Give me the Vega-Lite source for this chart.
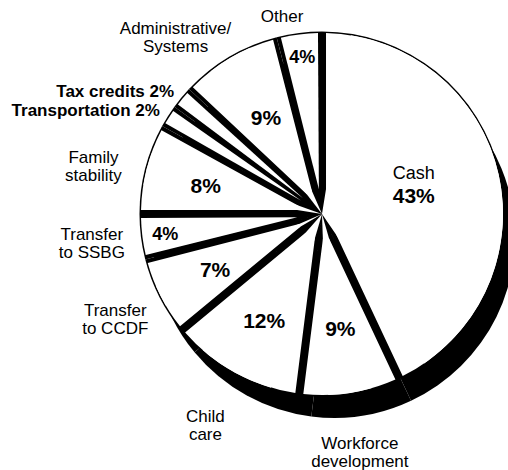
{
  "$schema": "https://vega.github.io/schema/vega-lite/v6.json",
  "autosize": "none",
  "width": 372,
  "height": 428,
  "padding": {"left": 136, "top": 0, "right": 0, "bottom": 42},
  "background": "white",
  "config": {"view": {"stroke": null}, "text": {"font": "Liberation Sans", "color": "black"}},
  "data": {
    "values": [
      {"i": 1, "name": "Cash", "value": 43, "label": "Cash", "pct": "43%"},
      {"i": 2, "name": "Workforce development", "value": 9, "label": "Workforce\ndevelopment", "pct": "9%"},
      {"i": 3, "name": "Child care", "value": 12, "label": "Child\ncare", "pct": "12%"},
      {"i": 4, "name": "Transfer to CCDF", "value": 7, "label": "Transfer\nto CCDF", "pct": "7%"},
      {"i": 5, "name": "Transfer to SSBG", "value": 4, "label": "Transfer\nto SSBG", "pct": "4%"},
      {"i": 6, "name": "Family stability", "value": 8, "label": "Family\nstability", "pct": "8%"},
      {"i": 7, "name": "Transportation", "value": 2, "label": "Transportation  2%", "pct": "2%"},
      {"i": 8, "name": "Tax credits", "value": 2, "label": "Tax credits 2%", "pct": "2%"},
      {"i": 9, "name": "Administrative/Systems", "value": 9, "label": "Administrative/\nSystems", "pct": "9%"},
      {"i": 10, "name": "Other", "value": 4, "label": "Other", "pct": "4%"}
    ]
  },
  "encoding": {
    "theta": {"field": "value", "type": "quantitative", "stack": true},
    "order": {"field": "i", "type": "quantitative", "sort": "ascending"}
  },
  "layer": [
    {"mark": {"type": "arc", "fill": "black", "outerRadius": 181, "xOffset": 12, "yOffset": 23}},
    {"mark": {"type": "arc", "fill": "black", "outerRadius": 182.5}},
    {"mark": {"type": "arc", "fill": "white", "outerRadius": 181, "padAngle": 0.32}},
    {"mark": {"type": "arc", "fill": "white", "innerRadius": 25, "outerRadius": 181, "padAngle": 0.044}},
    {
      "mark": {"type": "text", "radius": 94, "dy": -19, "fontSize": 18},
      "encoding": {"text": {"condition": {"test": "datum.name === 'Cash'", "field": "label"}, "value": ""}}
    },
    {
      "mark": {"type": "text", "radius": 94, "dy": 4, "fontSize": 21, "fontWeight": "bold"},
      "encoding": {"text": {"condition": {"test": "datum.name === 'Cash'", "field": "pct"}, "value": ""}}
    },
    {
      "mark": {"type": "text", "radius": 120, "dy": 3, "fontSize": 21, "fontWeight": "bold"},
      "encoding": {"text": {"condition": {"test": "indexof(['Child care','Transfer to CCDF','Family stability'], datum.name) >= 0", "field": "pct"}, "value": ""}}
    },
    {
      "mark": {"type": "text", "radius": 117, "dy": 0, "fontSize": 21, "fontWeight": "bold"},
      "encoding": {"text": {"condition": {"test": "datum.name === 'Workforce development'", "field": "pct"}, "value": ""}}
    },
    {
      "mark": {"type": "text", "radius": 110, "dy": 0, "fontSize": 21, "fontWeight": "bold"},
      "encoding": {"text": {"condition": {"test": "datum.name === 'Administrative/Systems'", "field": "pct"}, "value": ""}}
    },
    {
      "mark": {"type": "text", "radius": 158, "dy": 1, "fontSize": 18, "fontWeight": "bold"},
      "encoding": {"text": {"condition": {"test": "indexof(['Transfer to SSBG','Other'], datum.name) >= 0", "field": "pct"}, "value": ""}}
    },
    {
      "mark": {"type": "text", "radius": 232, "dy": -8, "fontSize": 17, "lineHeight": 18, "lineBreak": "\n"},
      "encoding": {"text": {"condition": {"test": "indexof(['Transfer to SSBG','Transfer to CCDF'], datum.name) >= 0", "field": "label"}, "value": ""}}
    },
    {
      "mark": {"type": "text", "radius": 242, "dy": -9, "fontSize": 17, "lineHeight": 18, "lineBreak": "\n"},
      "encoding": {"text": {"condition": {"test": "indexof(['Child care','Workforce development'], datum.name) >= 0", "field": "label"}, "value": ""}}
    },
    {
      "mark": {"type": "text", "radius": 236, "dy": 3, "fontSize": 17, "lineHeight": 18, "lineBreak": "\n"},
      "encoding": {"text": {"condition": {"test": "datum.name === 'Family stability'", "field": "label"}, "value": ""}}
    },
    {
      "mark": {"type": "text", "radius": 192, "align": "right", "fontSize": 17, "fontWeight": "bold"},
      "encoding": {"text": {"condition": {"test": "indexof(['Transportation','Tax credits'], datum.name) >= 0", "field": "label"}, "value": ""}}
    },
    {
      "mark": {"type": "text", "radius": 215, "dx": -37, "dy": 0, "fontSize": 17, "lineHeight": 18, "lineBreak": "\n"},
      "encoding": {"text": {"condition": {"test": "datum.name === 'Administrative/Systems'", "field": "label"}, "value": ""}}
    },
    {
      "mark": {"type": "text", "radius": 199, "dx": -15, "fontSize": 17},
      "encoding": {"text": {"condition": {"test": "datum.name === 'Other'", "field": "label"}, "value": ""}}
    }
  ]
}
